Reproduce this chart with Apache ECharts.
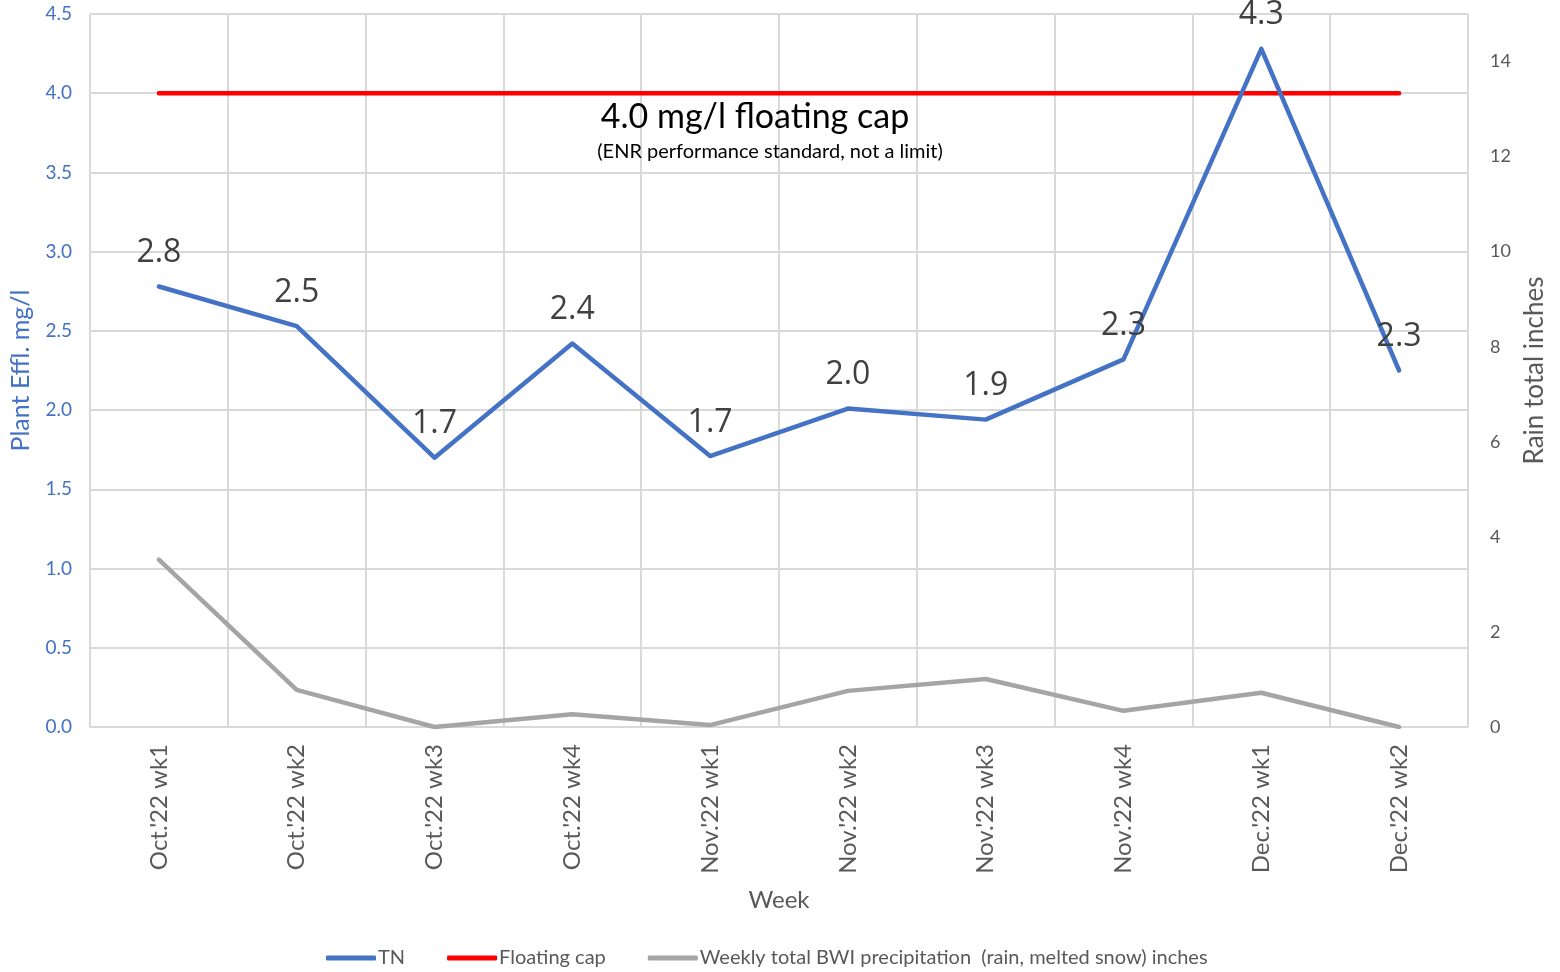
<!DOCTYPE html>
<html>
<head>
<meta charset="utf-8">
<script src="https://cdn.jsdelivr.net/npm/echarts@6/dist/echarts.min.js"></script>
<style>
html,body{margin:0;padding:0;background:#fff;}
#chart{width:1560px;height:972px;}
</style>
</head>
<body>
<div id="chart"></div>
<script>
var weeks = ["Oct.'22 wk1","Oct.'22 wk2","Oct.'22 wk3","Oct.'22 wk4","Nov.'22 wk1","Nov.'22 wk2","Nov.'22 wk3","Nov.'22 wk4","Dec.'22 wk1","Dec.'22 wk2"];
var tnValues = [2.78, 2.53, 1.70, 2.42, 1.71, 2.01, 1.94, 2.32, 4.28, 2.25];
var capValues = [4.0, 4.0, 4.0, 4.0, 4.0, 4.0, 4.0, 4.0, 4.0, 4.0];
var rainValues = [3.52, 0.78, 0.0, 0.27, 0.04, 0.76, 1.01, 0.34, 0.72, 0.0];
var leftTicks = {min: 0, max: 4.5, interval: 0.5};
var rightTicks = {min: 0, max: 15, interval: 2};

var chart = echarts.init(document.getElementById('chart'));
var gridCol = '#D9D9D9';
var textCol = '#595959';
chart.setOption({
  animation: false,
  backgroundColor: '#fff',
  grid: {left: 88, right: 92, top: 14, bottom: 245, containLabel: false},
  legend: {
    top: 943, left: 321,
    itemWidth: 50, itemHeight: 5, itemGap: 42, icon: 'roundRect',
    textStyle: {fontFamily: 'Lato', fontSize: 20, color: textCol, padding: [0,0,0,-3]},
    data: ['TN', 'Floating cap', 'Weekly total BWI precipitation  (rain, melted snow) inches']
  },
  xAxis: {
    type: 'category', data: weeks, boundaryGap: true,
    name: 'Week', nameLocation: 'middle', nameGap: 161,
    nameTextStyle: {fontFamily: 'Lato', fontSize: 24, color: textCol},
    axisLine: {show: true, lineStyle: {color: gridCol, width: 2}},
    axisTick: {show: false},
    axisLabel: {rotate: 90, margin: 17, fontFamily: 'Lato', fontSize: 24, color: textCol, interval: 0},
    splitLine: {show: true, interval: 0, lineStyle: {color: gridCol, width: 2}}
  },
  yAxis: [{
    type: 'value', min: leftTicks.min, max: leftTicks.max, interval: leftTicks.interval,
    name: 'Plant Effl. mg/l', nameLocation: 'middle', nameGap: 57,
    nameTextStyle: {fontFamily: 'Lato', fontSize: 25, color: '#4472C4'},
    axisLine: {show: false}, axisTick: {show: false},
    axisLabel: {margin: 18, fontFamily: 'Lato', fontSize: 19, color: '#4472C4', formatter: function(v){return v.toFixed(1);}},
    splitLine: {show: true, lineStyle: {color: gridCol, width: 2}}
  }, {
    type: 'value', min: rightTicks.min, max: rightTicks.max, interval: rightTicks.interval,
    name: 'Rain total inches', nameLocation: 'middle', nameGap: 54,
    nameTextStyle: {fontFamily: 'Lato', fontSize: 26, color: textCol},
    axisLine: {show: false}, axisTick: {show: false},
    axisLabel: {margin: 22, fontFamily: 'Lato', fontSize: 18, color: textCol, showMaxLabel: false},
    splitLine: {show: false}
  }],
  series: [{
    name: 'TN', type: 'line', data: tnValues, yAxisIndex: 0,
    symbol: 'circle', symbolSize: 1, showSymbol: true, z: 5,
    lineStyle: {color: '#4472C4', width: 4.5, cap: 'round', join: 'round'},
    itemStyle: {color: '#4472C4'},
    label: {show: true, position: 'top', distance: 17, fontFamily: 'Open Sans', fontSize: 32, color: '#404040',
      formatter: function(p){return p.value.toFixed(1);}}
  }, {
    name: 'Floating cap', type: 'line', data: capValues, yAxisIndex: 0,
    symbol: 'none', z: 4,
    lineStyle: {color: '#FF0000', width: 4.5, cap: 'round'},
    itemStyle: {color: '#FF0000'}
  }, {
    name: 'Weekly total BWI precipitation  (rain, melted snow) inches', type: 'line', data: rainValues, yAxisIndex: 1,
    symbol: 'none', z: 3,
    lineStyle: {color: '#A5A5A5', width: 4.5, cap: 'round', join: 'round'},
    itemStyle: {color: '#A5A5A5'}
  }],
  graphic: [{
    type: 'text', x: 755, y: 117, z: 10,
    style: {text: '4.0 mg/l floating cap', font: '34px Lato', fill: '#000', align: 'center', verticalAlign: 'middle'}
  }, {
    type: 'text', x: 770, y: 152, z: 10,
    style: {text: '(ENR performance standard, not a limit)', font: '20px Lato', fill: '#000', align: 'center', verticalAlign: 'middle'}
  }]
});
</script>
</body>
</html>
